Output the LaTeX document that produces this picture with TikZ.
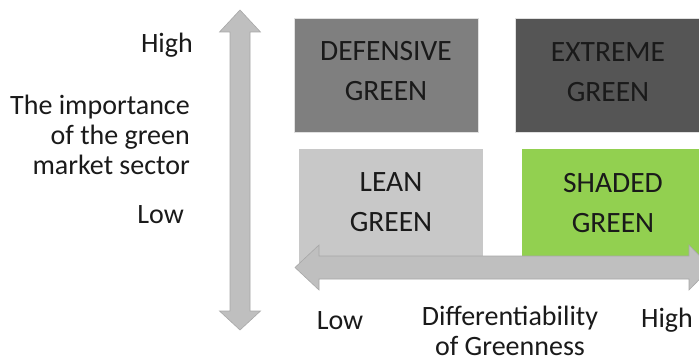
\documentclass[tikz,border=0pt]{standalone}
\usepackage{fontspec}
\setmainfont{Carlito}
\definecolor{arrowgray}{HTML}{BFBFBF}
\definecolor{arrowedge}{HTML}{A8A8A8}
\definecolor{defgray}{HTML}{7F7F7F}
\definecolor{extgray}{HTML}{555555}
\definecolor{leangray}{HTML}{C8C8C8}
\definecolor{shadegreen}{HTML}{92D050}
\definecolor{boxedge}{HTML}{E0E0E0}
\definecolor{txt}{HTML}{1A1A1A}
\begin{document}
\begin{tikzpicture}[x=1pt,y=-1pt,
  lbl/.style={inner sep=0pt, text=txt, font=\fontsize{28}{30}\selectfont},
  boxlbl/.style={inner sep=0pt, text=txt, align=center, font=\fontsize{29.5}{40}\selectfont},
  quad/.style={draw=boxedge, line width=0.6pt, inner sep=0pt, anchor=north west},
  axis/.style={fill=arrowgray, draw=arrowedge, line width=0.6pt, line join=miter}]
\clip (0,0) rectangle (699,361);
\fill[white] (0,0) rectangle (699,361);
% quadrant boxes
\node[quad, fill=defgray, minimum width=184pt, minimum height=114pt] (def) at (294,18) {};
\node[quad, fill=extgray, minimum width=190pt, minimum height=114pt] (ext) at (515,18) {};
\node[quad, fill=leangray, draw=none, minimum width=184pt, minimum height=120pt] (lean) at (299,149) {};
\node[quad, fill=shadegreen, draw=none, minimum width=190pt, minimum height=110pt] (shade) at (522,149) {};
% box labels
\node[boxlbl] (deft) at (386,71) {DEFENSIVE\\GREEN};
\node[boxlbl] (extt) at (608,72) {EXTREME\\GREEN};
\node[boxlbl] (leant) at (391,202) {LEAN\\GREEN};
\node[boxlbl] (shadet) at (613,203) {SHADED\\GREEN};
% vertical axis arrow
\coordinate (vtop) at (240,10);
\coordinate (vbot) at (240,330);
\draw[axis] (vtop) -- (260.5,32) -- (250,32) -- (250,311) -- (260.5,311) -- (vbot)
  -- (219.5,311) -- (230,311) -- (230,32) -- (219.5,32) -- cycle;
% horizontal axis arrow
\coordinate (hleft) at (295,267.5);
\coordinate (hright) at (711,267.5);
\draw[axis] (hleft) -- (319,245) -- (319,256) -- (689,256) -- (689,245) -- (hright)
  -- (689,290) -- (689,279) -- (319,279) -- (319,290) -- cycle;
% axis labels
\node[lbl, anchor=east] (yhigh) at (193,45) {High};
\node[lbl, anchor=east, align=right, font=\fontsize{28}{30}\selectfont] (ytitle) at (190,135) {The importance\\of the green\\market sector};
\node[lbl, anchor=east] (ylow) at (184,215) {Low};
\node[lbl] (xlow) at (340,321) {Low};
\node[lbl, align=center, font=\fontsize{28}{30}\selectfont] (xtitle) at (510,331) {Differentiability\\of Greenness};
\node[lbl] (xhigh) at (667,320) {High};
\end{tikzpicture}
\end{document}
